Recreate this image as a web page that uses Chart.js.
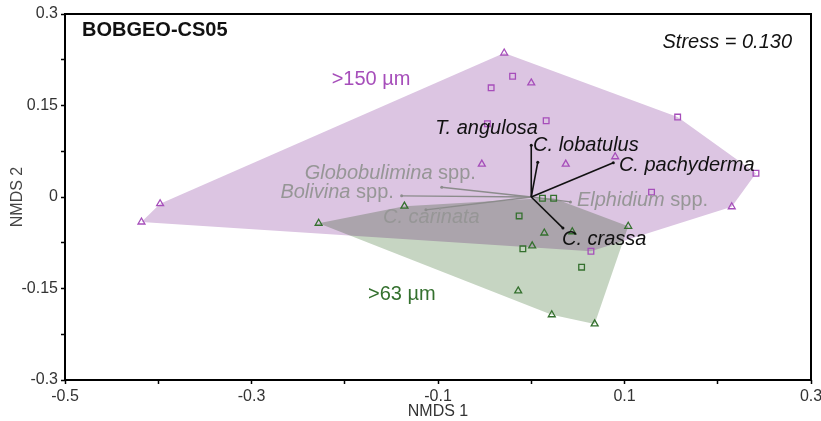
<!DOCTYPE html>
<html>
<head>
<meta charset="utf-8">
<script src="https://cdn.jsdelivr.net/npm/chart.js@4.4.0/dist/chart.umd.min.js"></script>
<style>
    html, body { margin: 0; padding: 0; background: #fff; }
</style>
</head>
<body>
<canvas id="nmds_chart" width="821" height="421"></canvas>
<script>
// site scores, >150 µm fraction
const coarseTriX = [-0.418, -0.398, -0.029, 0.000, -0.053, 0.037, 0.090, 0.215];
const coarseTriY = [-0.041, -0.011, 0.236, 0.187, 0.054, 0.054, 0.066, -0.016];
const coarseSqX = [-0.020, -0.043, -0.047, 0.016, 0.157, 0.241, 0.129, 0.064];
const coarseSqY = [0.198, 0.179, 0.120, 0.125, 0.131, 0.039, 0.008, -0.089];

// site scores, >63 µm fraction
const fineTriX = [-0.228, -0.136, 0.104, 0.044, 0.014, 0.001, -0.014, 0.022, 0.068];
const fineTriY = [-0.043, -0.015, -0.048, -0.057, -0.059, -0.080, -0.154, -0.193, -0.208];
const fineSqX = [0.012, 0.024, -0.013, -0.009, 0.054];
const fineSqY = [-0.002, -0.002, -0.031, -0.085, -0.115];

// species vectors (envfit)
const speciesNames = ['T. angulosa', 'C. lobatulus', 'C. pachyderma', 'C. crassa',
    'Globobulimina spp.', 'Bolivina spp.', 'C. carinata', 'Elphidium spp.'];
const speciesX = [0.007, 0.000, 0.088, 0.034, -0.096, -0.139, -0.113, 0.042];
const speciesY = [0.057, 0.085, 0.056, -0.051, 0.016, 0.002, -0.021, -0.008];
const speciesSignif = [true, true, true, true, false, false, false, false];
// where each species name sits (left edge, text middle)
const speciesLabelX = [-0.103, 0.002, 0.094, 0.033, -0.243, -0.269, -0.159, 0.049];
const speciesLabelY = [0.113, 0.085, 0.051, -0.070, 0.039, 0.008, -0.034, -0.005];

const groupNames = ['>150 µm', '>63 µm'];
const groupLabelX = [-0.214, -0.175];
const groupLabelY = [0.193, -0.159];

const xTickLabels = [-0.5, -0.3, -0.1, 0.1, 0.3];
const yTickLabels = [0.3, 0.15, 0, -0.15, -0.3];

const PURPLE = 'rgb(166, 78, 186)';
const GREEN = 'rgb(52, 112, 46)';
const FONT = 'Liberation Sans, Arial, sans-serif';

const toPoints = (xs, ys) => xs.map((v, i) => ({x: v, y: ys[i]}));

// convex hull (monotone chain)
function hull(pts) {
    const p = pts.slice().sort((a, b) => a.x - b.x || a.y - b.y);
    const cross = (o, a, b) => (a.x - o.x) * (b.y - o.y) - (a.y - o.y) * (b.x - o.x);
    const lower = [], upper = [];
    for (const q of p) {
        while (lower.length >= 2 && cross(lower[lower.length - 2], lower[lower.length - 1], q) <= 0) lower.pop();
        lower.push(q);
    }
    for (const q of p.slice().reverse()) {
        while (upper.length >= 2 && cross(upper[upper.length - 2], upper[upper.length - 1], q) <= 0) upper.pop();
        upper.push(q);
    }
    return lower.slice(0, -1).concat(upper.slice(0, -1));
}

const coarsePts = toPoints(coarseTriX, coarseTriY).concat(toPoints(coarseSqX, coarseSqY));
const finePts = toPoints(fineTriX, fineTriY).concat(toPoints(fineSqX, fineSqY));
const hulls = [
    {pts: hull(coarsePts), color: 'rgb(220, 197, 226)', blend: 'source-over'},
    {pts: hull(finePts), color: 'rgb(198, 213, 194)', blend: 'multiply'},
];

const hullPlugin = {
    id: 'hulls',
    beforeDatasetsDraw(chart) {
        const {ctx, chartArea, scales} = chart;
        ctx.save();
        ctx.beginPath();
        ctx.rect(chartArea.left, chartArea.top, chartArea.width, chartArea.height);
        ctx.clip();
        hulls.forEach(h => {
            ctx.globalCompositeOperation = h.blend;
            ctx.fillStyle = h.color;
            ctx.beginPath();
            h.pts.forEach((p, i) => {
                const px = scales.x.getPixelForValue(p.x);
                const py = scales.y.getPixelForValue(p.y);
                if (i === 0) ctx.moveTo(px, py); else ctx.lineTo(px, py);
            });
            ctx.closePath();
            ctx.fill();
        });
        ctx.restore();
    }
};

// frame + all the text on the plot
const textPlugin = {
    id: 'texts',
    afterDraw(chart) {
        const {ctx, chartArea, scales} = chart;
        ctx.save();
        ctx.strokeStyle = '#000';
        ctx.lineWidth = 2;
        ctx.strokeRect(chartArea.left, chartArea.top, chartArea.width, chartArea.height);

        ctx.textBaseline = 'middle';
        ctx.fillStyle = '#111';
        ctx.textAlign = 'left';
        ctx.font = 'bold 20px ' + FONT;
        ctx.fillText('BOBGEO-CS05', chartArea.left + 17, chartArea.top + 16);
        ctx.textAlign = 'right';
        ctx.font = 'italic 20px ' + FONT;
        ctx.fillText('Stress = 0.130', chartArea.right - 19, chartArea.top + 28);

        ctx.textAlign = 'left';
        ctx.font = '20px ' + FONT;
        [PURPLE, GREEN].forEach((c, i) => {
            ctx.fillStyle = c;
            ctx.fillText(groupNames[i],
                scales.x.getPixelForValue(groupLabelX[i]),
                scales.y.getPixelForValue(groupLabelY[i]));
        });

        speciesNames.forEach((name, i) => {
            let px = scales.x.getPixelForValue(speciesLabelX[i]);
            const py = scales.y.getPixelForValue(speciesLabelY[i]);
            ctx.fillStyle = speciesSignif[i] ? '#111' : 'rgb(150, 150, 150)';
            const sp = name.endsWith(' spp.');
            const genus = sp ? name.slice(0, -5) : name;
            ctx.font = 'italic 20px ' + FONT;
            ctx.fillText(genus, px, py);
            if (sp) {
                px += ctx.measureText(genus).width;
                ctx.font = '20px ' + FONT;
                ctx.fillText(' spp.', px, py);
            }
        });
        ctx.restore();
    }
};

const vectorSets = speciesNames.map((name, i) => ({
    label: name,
    data: [{x: 0, y: 0}, {x: speciesX[i], y: speciesY[i]}],
    showLine: true,
    borderColor: speciesSignif[i] ? '#111' : 'rgb(140, 140, 140)',
    borderWidth: speciesSignif[i] ? 1.6 : 1.3,
    pointRadius: [0, 1.5],
    pointBackgroundColor: speciesSignif[i] ? '#111' : 'rgb(140, 140, 140)',
    pointBorderWidth: 0,
    order: 3
}));

const markerSet = (label, pts, style, color) => ({
    label: label,
    data: pts,
    pointStyle: style,
    pointRadius: 4,
    pointBorderWidth: 1.3,
    pointBorderColor: color,
    pointBackgroundColor: 'rgba(0,0,0,0)',
    order: 1
});

const data = {
    datasets: vectorSets.concat([
        markerSet('>150 µm tri', toPoints(coarseTriX, coarseTriY), 'triangle', PURPLE),
        markerSet('>150 µm sq', toPoints(coarseSqX, coarseSqY), 'rect', PURPLE),
        markerSet('>63 µm tri', toPoints(fineTriX, fineTriY), 'triangle', GREEN),
        markerSet('>63 µm sq', toPoints(fineSqX, fineSqY), 'rect', GREEN),
    ])
};

const pickLabel = (list) => (v) => {
    const hit = list.find(t => Math.abs(t - v) < 1e-6);
    return hit === undefined ? '' : String(hit);
};

const tickGrid = {
    display: true,
    drawOnChartArea: false,
    drawTicks: true,
    tickLength: 4,
    tickWidth: 1.5,
    tickColor: '#000'
};

const config = {
    type: 'scatter',
    data: data,
    options: {
        responsive: false,
        animation: false,
        devicePixelRatio: 1,
        layout: {padding: {top: 14, right: 10, left: 0, bottom: 0}},
        plugins: {
            legend: {display: false},
            tooltip: {enabled: false}
        },
        scales: {
            x: {
                type: 'linear',
                min: -0.5,
                max: 0.3,
                ticks: {
                    stepSize: 0.1,
                    autoSkip: false,
                    maxRotation: 0,
                    padding: 3,
                    color: '#333',
                    font: {family: FONT, size: 16},
                    callback: pickLabel(xTickLabels)
                },
                grid: tickGrid,
                border: {display: false},
                title: {
                    display: true,
                    text: 'NMDS 1',
                    color: '#333',
                    font: {family: FONT, size: 16},
                    padding: {top: 0, bottom: 0}
                },
                afterFit(s) {
                    s.height = 41;
                    s.paddingLeft = 0;
                    s.paddingRight = 0;
                }
            },
            y: {
                type: 'linear',
                min: -0.3,
                max: 0.3,
                ticks: {
                    stepSize: 0.075,
                    autoSkip: false,
                    padding: 3,
                    color: '#333',
                    font: {family: FONT, size: 16},
                    callback: pickLabel(yTickLabels)
                },
                grid: tickGrid,
                border: {display: false},
                title: {
                    display: true,
                    text: 'NMDS 2',
                    color: '#444',
                    font: {family: FONT, size: 16},
                    padding: {top: 8, bottom: 0}
                },
                afterFit(s) {
                    s.width = 65;
                    s.paddingTop = 0;
                    s.paddingBottom = 0;
                }
            }
        }
    },
    plugins: [hullPlugin, textPlugin]
};

const nmdsChart = new Chart(document.getElementById('nmds_chart'), config);
</script>
</body>
</html>
